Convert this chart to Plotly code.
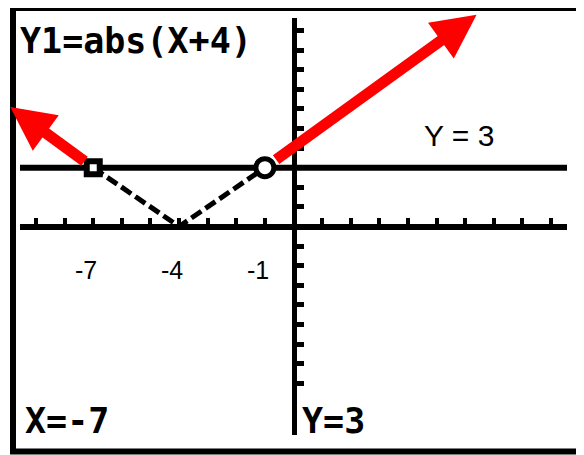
import plotly.graph_objects as go

# ---------------- data ----------------
FUNC_X = [-7, -4, -1]            # y = abs(x + 4) between the two marked points
FUNC_Y = [3, 0, 3]
HLINE_Y = 3                      # the line Y = 3
SQUARE_PT = [-7, 3]              # closed end (square cursor)
CIRCLE_PT = [-1, 3]              # open circle
LEFT_ARROW_TIP = [-9.9, 6.1]
RIGHT_ARROW_TIP = [6.4, 10.8]
X_LABEL_VALS = [-7, -4, -1]
X_LABEL_TEXT = ["-7", "-4", "-1"]
X_RANGE = [-9.56, 9.56]
Y_RANGE = [-10.64, 10.64]
X_DTICK = 1
Y_TICKS = list(range(-8, 11))
EQ_TEXT = "Y1=abs(X+4)"
X_READOUT = "X=-7"
Y_READOUT = "Y=3"
LINE_LABEL = "Y = 3"

# ---------------- layout geometry ----------------
# the page body has an 8px default margin, so the figure is drawn 8px in
OFF = 8
W, H = 584 - OFF, 455 - OFF
ML, MT = 20 - OFF, 18 - OFF
MR, MB = 17, 20
PW, PH = W - ML - MR, H - MT - MB


def px_x(p):
    """window pixel x -> paper fraction"""
    return (p - OFF - ML) / PW


def px_y(p):
    """window pixel y -> paper fraction"""
    return (H - MB - (p - OFF)) / PH


TI_FONT = "DejaVu Sans Mono, monospace"
TI_SIZE = 35
ARIAL = "Liberation Sans, Arial, sans-serif"

fig = go.Figure()

fig.add_trace(go.Scatter(
    x=FUNC_X, y=FUNC_Y, mode="lines",
    line=dict(color="black", width=5, dash="12px,5px"),
    hoverinfo="skip", showlegend=False,
))
fig.add_trace(go.Scatter(
    x=[SQUARE_PT[0]], y=[SQUARE_PT[1]], mode="markers",
    marker=dict(symbol="square", size=13, color="white",
                line=dict(color="black", width=6)),
    hoverinfo="skip", showlegend=False,
))
fig.add_trace(go.Scatter(
    x=[CIRCLE_PT[0]], y=[CIRCLE_PT[1]], mode="markers",
    marker=dict(symbol="circle", size=18, color="white",
                line=dict(color="black", width=5)),
    hoverinfo="skip", showlegend=False,
))

shapes = [
    dict(type="line", xref="x domain", yref="y", x0=0, x1=1,
         y0=HLINE_Y, y1=HLINE_Y, line=dict(color="black", width=6),
         layer="below"),
    dict(type="rect", xref="paper", yref="paper",
         x0=px_x(13), x1=px_x(580), y0=px_y(451.5), y1=px_y(8),
         line=dict(color="black", width=6)),
]

annotations = [
    # red arrows continuing the graph
    dict(x=RIGHT_ARROW_TIP[0], y=RIGHT_ARROW_TIP[1], xref="x", yref="y",
         ax=CIRCLE_PT[0], ay=CIRCLE_PT[1], axref="x", ayref="y",
         showarrow=True, arrowhead=2, arrowsize=0.8, arrowwidth=11,
         arrowcolor="#ff0000", startstandoff=12, text=""),
    dict(x=LEFT_ARROW_TIP[0], y=LEFT_ARROW_TIP[1], xref="x", yref="y",
         ax=SQUARE_PT[0], ay=SQUARE_PT[1], axref="x", ayref="y",
         showarrow=True, arrowhead=2, arrowsize=0.8, arrowwidth=11,
         arrowcolor="#ff0000", startstandoff=9, text=""),
    # calculator texts
    dict(text="<b>%s</b>" % EQ_TEXT, xref="paper", yref="paper",
         x=px_x(18), y=px_y(41), xanchor="left", yanchor="middle",
         showarrow=False, font=dict(family=TI_FONT, size=TI_SIZE, color="black")),
    dict(text="<b>%s</b>" % X_READOUT, xref="paper", yref="paper",
         x=px_x(23), y=px_y(421), xanchor="left", yanchor="middle",
         showarrow=False, font=dict(family=TI_FONT, size=TI_SIZE, color="black")),
    dict(text="<b>%s</b>" % Y_READOUT, xref="paper", yref="paper",
         x=px_x(300), y=px_y(421), xanchor="left", yanchor="middle",
         showarrow=False, font=dict(family=TI_FONT, size=TI_SIZE, color="black")),
    # line label
    dict(text=LINE_LABEL, xref="x", yref="y", x=5.8, y=4.62,
         xanchor="center", yanchor="middle", showarrow=False,
         font=dict(family=ARIAL, size=30, color="black")),
]
for v, t in zip(X_LABEL_VALS, X_LABEL_TEXT):
    annotations.append(dict(
        text=t, xref="x", yref="y", x=v, y=0, xshift=-7, yshift=-43,
        xanchor="center", yanchor="middle", showarrow=False,
        font=dict(family=ARIAL, size=25, color="black")))

fig.update_layout(
    width=W, height=H,
    margin=dict(l=ML, r=MR, t=MT, b=MB, pad=0),
    paper_bgcolor="white", plot_bgcolor="white",
    showlegend=False,
    shapes=shapes, annotations=annotations,
    xaxis=dict(range=X_RANGE, anchor="free", position=0.5,
               showline=True, linewidth=6, linecolor="black",
               ticks="inside", ticklen=6, tickwidth=4, tickcolor="black",
               tick0=0, dtick=X_DTICK, showticklabels=False,
               showgrid=False, zeroline=False, fixedrange=True),
    yaxis=dict(range=Y_RANGE, anchor="free", position=0.5,
               showline=True, linewidth=5, linecolor="black",
               ticks="inside", ticklen=7, tickwidth=5, tickcolor="black",
               tickmode="array", tickvals=Y_TICKS, showticklabels=False,
               showgrid=False, zeroline=False, fixedrange=True),
)

fig.write_html("out.html", config={"displayModeBar": False})
